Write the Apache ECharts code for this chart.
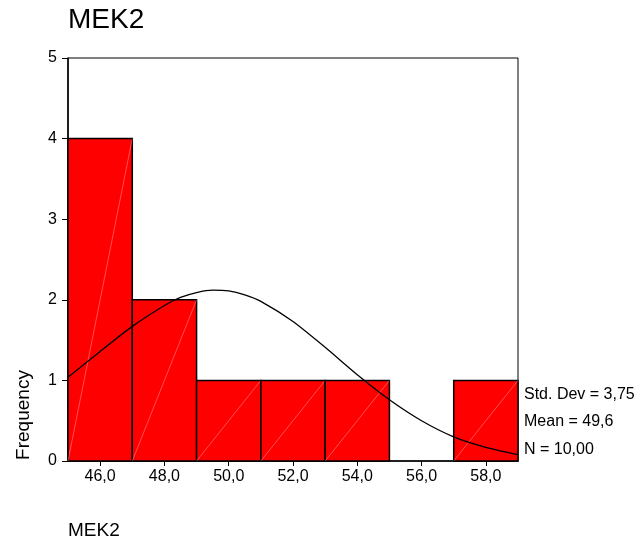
<!DOCTYPE html>
<html>
<head>
<meta charset="utf-8">
<script src="https://cdn.jsdelivr.net/npm/echarts@6/dist/echarts.min.js"></script>
<style>
  html, body { margin: 0; padding: 0; background: #fff; }
  #chart { width: 644px; height: 547px; }
</style>
</head>
<body>
<div id="chart"></div>
<script>
// bins of the histogram: lower edge, upper edge, count
var binLow = [45, 47, 49, 51, 53, 55, 57]
var binHigh = [47, 49, 51, 53, 55, 57, 59]
var binCount = [4, 2, 1, 1, 1, 0, 1]
// normal curve
var curveX = [45, 46, 47, 48, 48.5, 49, 49.5, 50, 50.5, 51, 52, 53, 54, 55, 56, 57, 58, 59]
var curveY = [1.04, 1.36, 1.67, 1.93, 2.03, 2.09, 2.12, 2.11, 2.06, 1.98, 1.73, 1.41, 1.07, 0.76, 0.5, 0.3, 0.17, 0.08]
var xTicks = [46, 48, 50, 52, 54, 56, 58]
var statLines = ['Std. Dev = 3,75', 'Mean = 49,6', 'N = 10,00']

var font = 'Arial, "Liberation Sans", sans-serif'
var chart = echarts.init(document.getElementById('chart'))

var bars = []
for (var i = 0; i < binLow.length; i++) {
  if (binCount[i] > 0) bars.push([binLow[i], binHigh[i], binCount[i]])
}
var curve = curveX.map(function (x, i) { return [x, curveY[i]] })

var option = {
  animation: false,
  backgroundColor: '#fff',
  grid: {
    left: 68, right: 126, top: 58, bottom: 86,
    show: true, borderColor: '#000', borderWidth: 1, backgroundColor: 'transparent'
  },
  xAxis: {
    type: 'value', min: 45, max: 59,
    axisLine: { lineStyle: { color: '#000', width: 1.5 } },
    axisTick: { customValues: xTicks, length: 5, lineStyle: { color: '#000' } },
    axisLabel: {
      customValues: xTicks, color: '#000', fontFamily: font, fontSize: 16, margin: 8,
      formatter: function (v) { return v.toFixed(1).replace('.', ',') }
    },
    splitLine: { show: false }
  },
  yAxis: {
    type: 'value', min: 0, max: 5, interval: 1,
    axisLine: { show: true, lineStyle: { color: '#000', width: 1.5 } },
    axisTick: { show: true, length: 6, lineStyle: { color: '#000' } },
    axisLabel: { color: '#000', fontFamily: font, fontSize: 16, margin: 11 },
    splitLine: { show: false }
  },
  graphic: [
    { type: 'text', x: 68, y: 20, style: { text: 'MEK2', font: '28px ' + font, fill: '#000', verticalAlign: 'middle' } },
    { type: 'text', x: 68, y: 531, style: { text: 'MEK2', font: '19px ' + font, fill: '#000', verticalAlign: 'middle' } },
    {
      type: 'text', x: 24, y: 415, rotation: Math.PI / 2,
      style: { text: 'Frequency', font: '19px ' + font, fill: '#000', align: 'center', verticalAlign: 'middle' }
    },
    { type: 'text', x: 524, y: 395, style: { text: statLines[0], font: '16px ' + font, fill: '#000', verticalAlign: 'middle' } },
    { type: 'text', x: 524, y: 422, style: { text: statLines[1], font: '16px ' + font, fill: '#000', verticalAlign: 'middle' } },
    { type: 'text', x: 524, y: 450, style: { text: statLines[2], font: '16px ' + font, fill: '#000', verticalAlign: 'middle' } }
  ],
  series: [
    {
      type: 'custom',
      data: bars,
      encode: { x: [0, 1], y: 2 },
      renderItem: function (params, api) {
        var p0 = api.coord([api.value(0), 0])
        var p1 = api.coord([api.value(1), api.value(2)])
        return {
          type: 'group',
          children: [
            {
              type: 'rect',
              shape: { x: p0[0], y: p1[1], width: p1[0] - p0[0], height: p0[1] - p1[1] },
              style: { fill: '#ff0000', stroke: '#000', lineWidth: 1.5 }
            },
            {
              type: 'line',
              shape: { x1: p0[0], y1: p0[1], x2: p1[0], y2: p1[1] },
              style: { stroke: 'rgba(255,255,255,0.4)', lineWidth: 0.8 }
            }
          ]
        }
      }
    },
    {
      type: 'line',
      data: curve,
      smooth: 0.2,
      showSymbol: false,
      z: 5,
      lineStyle: { color: '#000', width: 1.3 }
    }
  ]
}
chart.setOption(option)
</script>
</body>
</html>
